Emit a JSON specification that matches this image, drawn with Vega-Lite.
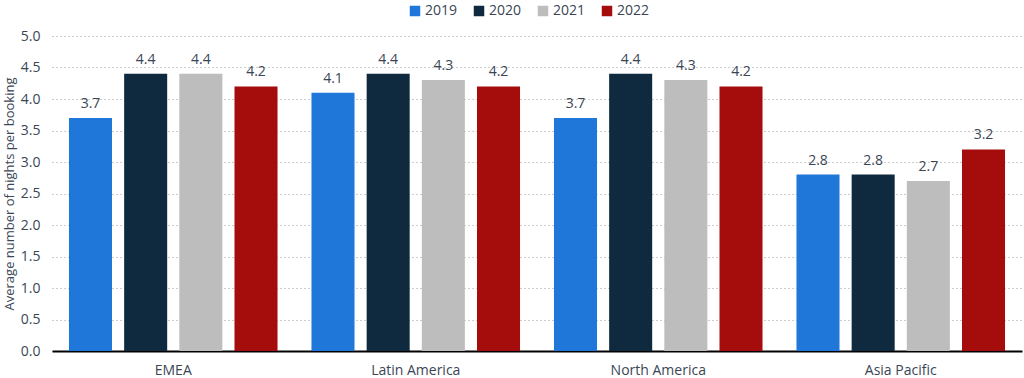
{
  "$schema": "https://vega.github.io/schema/vega-lite/v6.json",
  "width": 970,
  "height": 315,
  "autosize": {"type": "none"},
  "padding": {"left": 52, "top": 36, "right": 2, "bottom": 27},
  "config": {
    "font": "Open Sans",
    "view": {"stroke": null},
    "axis": {"labelFont": "Open Sans", "titleFont": "Open Sans"}
  },
  "data": {
    "values": [
      {"region": "EMEA", "year": "2019", "value": 3.7},
      {"region": "EMEA", "year": "2020", "value": 4.4},
      {"region": "EMEA", "year": "2021", "value": 4.4},
      {"region": "EMEA", "year": "2022", "value": 4.2},
      {"region": "Latin America", "year": "2019", "value": 4.1},
      {"region": "Latin America", "year": "2020", "value": 4.4},
      {"region": "Latin America", "year": "2021", "value": 4.3},
      {"region": "Latin America", "year": "2022", "value": 4.2},
      {"region": "North America", "year": "2019", "value": 3.7},
      {"region": "North America", "year": "2020", "value": 4.4},
      {"region": "North America", "year": "2021", "value": 4.3},
      {"region": "North America", "year": "2022", "value": 4.2},
      {"region": "Asia Pacific", "year": "2019", "value": 2.8},
      {"region": "Asia Pacific", "year": "2020", "value": 2.8},
      {"region": "Asia Pacific", "year": "2021", "value": 2.7},
      {"region": "Asia Pacific", "year": "2022", "value": 3.2}
    ]
  },
  "encoding": {
    "x": {
      "field": "region",
      "type": "nominal",
      "sort": ["EMEA", "Latin America", "North America", "Asia Pacific"],
      "scale": {"paddingInner": 0.14, "paddingOuter": 0.07},
      "axis": {
        "title": null,
        "labelAngle": 0,
        "ticks": false,
        "domainColor": "#000000",
        "domainWidth": 2,
        "labelFontSize": 14,
        "labelColor": "#3a4655",
        "labelPadding": 12
      }
    },
    "xOffset": {
      "field": "year",
      "type": "nominal",
      "scale": {"paddingInner": 0.22}
    },
    "y": {
      "field": "value",
      "type": "quantitative",
      "scale": {"domain": [0, 5]},
      "axis": {
        "title": "Average number of nights per booking",
        "titleFontSize": 13,
        "titleFontWeight": "normal",
        "titleColor": "#3a4655",
        "titlePadding": 4,
        "values": [0, 0.5, 1, 1.5, 2, 2.5, 3, 3.5, 4, 4.5, 5],
        "labelOverlap": false,
        "format": ".1f",
        "labelFontSize": 14,
        "labelColor": "#3a4655",
        "labelPadding": 12,
        "ticks": false,
        "domain": false,
        "gridDash": [1, 3],
        "gridColor": "#9a9a9a",
        "gridWidth": 1
      }
    }
  },
  "layer": [
    {
      "mark": {"type": "bar"},
      "encoding": {
        "color": {
          "field": "year",
          "type": "nominal",
          "scale": {
            "domain": ["2019", "2020", "2021", "2022"],
            "range": ["#1f77d9", "#0f2a3f", "#bdbdbd", "#a50d0d"]
          },
          "legend": {
            "title": null,
            "orient": "none",
            "legendX": 356,
            "legendY": -32,
            "direction": "horizontal",
            "symbolType": "square",
            "symbolSize": 110,
            "symbolStrokeWidth": 0,
            "labelFontSize": 14,
            "labelColor": "#3a4655",
            "columnPadding": 14,
            "labelOffset": 3
          }
        }
      }
    },
    {
      "mark": {"type": "text", "dy": -14, "fontSize": 14, "color": "#3a4655"},
      "encoding": {
        "text": {"field": "value", "type": "quantitative", "format": ".1f"}
      }
    }
  ]
}
